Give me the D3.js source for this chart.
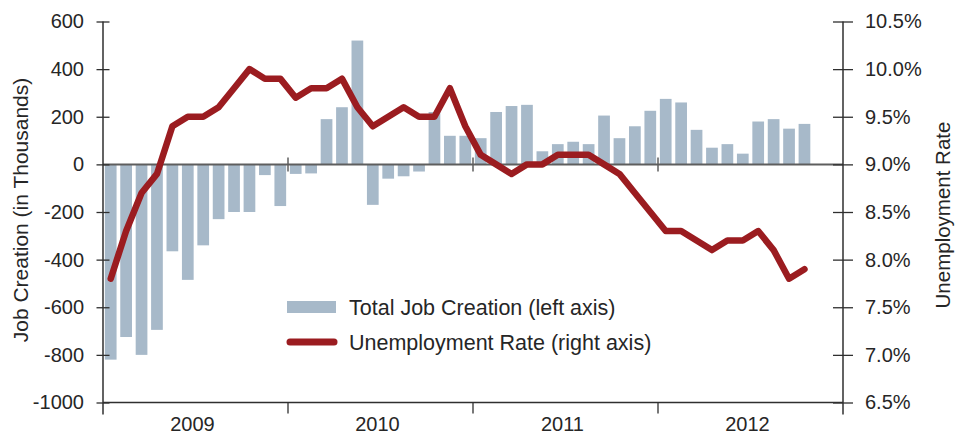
<!DOCTYPE html>
<html>
<head>
<meta charset="utf-8">
<script src="https://cdn.jsdelivr.net/npm/d3@7"></script>
<style>
  html, body { margin: 0; padding: 0; background: #fff; }
  svg { display: block; font-family: "Liberation Sans", Arial, Helvetica, sans-serif; }
</style>
</head>
<body>
<svg id="chart" width="963" height="434"></svg>
<script>
// ---- Data ----
const years = ["2009", "2010", "2011", "2012"];
const monthSlots = [
  "2009-01","2009-02","2009-03","2009-04","2009-05","2009-06","2009-07","2009-08","2009-09","2009-10","2009-11","2009-12",
  "2010-01","2010-02","2010-03","2010-04","2010-05","2010-06","2010-07","2010-08","2010-09","2010-10","2010-11","2010-12",
  "2011-01","2011-02","2011-03","2011-04","2011-05","2011-06","2011-07","2011-08","2011-09","2011-10","2011-11","2011-12",
  "2012-01","2012-02","2012-03","2012-04","2012-05","2012-06","2012-07","2012-08","2012-09","2012-10","2012-11","2012-12"
];
const months = monthSlots.slice(0, 46);
const jobCreation = [
  -820, -725, -800, -695, -365, -485, -340, -230, -200, -200, -45, -175,
  -40, -38, 190, 240, 520, -170, -60, -50, -30, 220, 120, 120,
  110, 220, 245, 250, 55, 85, 95, 85, 205, 110, 160, 225,
  275, 260, 145, 70, 85, 45, 180, 190, 150, 170
];
const unemploymentRate = [
  7.8, 8.3, 8.7, 8.9, 9.4, 9.5, 9.5, 9.6, 9.8, 10.0, 9.9, 9.9,
  9.7, 9.8, 9.8, 9.9, 9.6, 9.4, 9.5, 9.6, 9.5, 9.5, 9.8, 9.4,
  9.1, 9.0, 8.9, 9.0, 9.0, 9.1, 9.1, 9.1, 9.0, 8.9, 8.7, 8.5,
  8.3, 8.3, 8.2, 8.1, 8.2, 8.2, 8.3, 8.1, 7.8, 7.9
];
const leftTicks = [600, 400, 200, 0, -200, -400, -600, -800, -1000];
const rightTicks = [10.5, 10.0, 9.5, 9.0, 8.5, 8.0, 7.5, 7.0, 6.5];
const legendLabels = ["Total Job Creation (left axis)", "Unemployment Rate (right axis)"];
const axisTitles = { left: "Job Creation (in Thousands)", right: "Unemployment Rate" };

// ---- Styles ----
const barColor = "#a7b9c9";
const lineColor = "#9b1c20";
const textColor = "#262626";
const axisColor = "#2f2f2f";

const svg = d3.select("#chart");
const plotL = 103, plotR = 843, plotT = 21.5, plotB = 402.5;

const x = d3.scaleBand().domain(monthSlots).range([plotL, plotR]).paddingInner(0.24).paddingOuter(0.12);
const xYear = d3.scaleBand().domain(years).range([plotL, plotR]);
const yL = d3.scaleLinear().domain([-1000, 600]).range([plotB, plotT]);
const yR = d3.scaleLinear().domain([6.5, 10.5]).range([plotB, plotT]);

// Bars
svg.append("g").selectAll("rect").data(months).join("rect")
  .attr("x", d => x(d))
  .attr("width", x.bandwidth())
  .attr("y", (d, i) => Math.min(yL(jobCreation[i]), yL(0)))
  .attr("height", (d, i) => Math.abs(yL(jobCreation[i]) - yL(0)))
  .attr("fill", barColor);

// Zero line
svg.append("line")
  .attr("x1", plotL).attr("x2", plotR)
  .attr("y1", yL(0)).attr("y2", yL(0))
  .attr("stroke", "#5e5e5e").attr("stroke-width", 2);

// Year ticks on zero line
svg.append("g").selectAll("line").data(years.slice(1)).join("line")
  .attr("x1", d => xYear(d)).attr("x2", d => xYear(d))
  .attr("y1", yL(0) - 7).attr("y2", yL(0) + 7)
  .attr("stroke", "#5e5e5e").attr("stroke-width", 1.5);

// Left axis
const leftAxis = d3.axisLeft(yL).tickValues(leftTicks).tickSize(0).tickPadding(19).tickFormat(d => String(d));
const gL = svg.append("g").attr("transform", `translate(${plotL},0)`).call(leftAxis);
gL.select(".domain").remove();
gL.selectAll("text").attr("fill", textColor).style("font-size", "20px").style("font-family", "inherit");
gL.append("line").attr("x1", 0).attr("x2", 0).attr("y1", plotT).attr("y2", plotB + 12)
  .attr("stroke", axisColor).attr("stroke-width", 1.5);
gL.selectAll(".tick").append("line").attr("x1", -6.5).attr("x2", 6.5)
  .attr("stroke", axisColor).attr("stroke-width", 1.3);

// Right axis
const rightAxis = d3.axisRight(yR).tickValues(rightTicks).tickSize(0).tickPadding(22).tickFormat(d => d3.format(".1f")(d) + "%");
const gR = svg.append("g").attr("transform", `translate(${plotR},0)`).call(rightAxis);
gR.select(".domain").remove();
gR.selectAll("text").attr("fill", textColor).style("font-size", "20px").style("font-family", "inherit");
gR.append("line").attr("x1", 0).attr("x2", 0).attr("y1", plotT).attr("y2", plotB + 12)
  .attr("stroke", axisColor).attr("stroke-width", 1.5);
gR.selectAll(".tick").append("line").attr("x1", -10).attr("x2", 10)
  .attr("stroke", axisColor).attr("stroke-width", 1.3);

// Bottom axis
svg.append("line").attr("x1", plotL).attr("x2", plotR).attr("y1", plotB).attr("y2", plotB)
  .attr("stroke", axisColor).attr("stroke-width", 1.5);
svg.append("g").selectAll("line").data(years.slice(1)).join("line")
  .attr("x1", d => xYear(d)).attr("x2", d => xYear(d))
  .attr("y1", plotB).attr("y2", plotB + 11)
  .attr("stroke", axisColor).attr("stroke-width", 1.3);
svg.append("g").selectAll("text").data(years).join("text")
  .attr("x", d => xYear(d) + xYear.bandwidth() / 2 - 3)
  .attr("y", 431)
  .attr("text-anchor", "middle")
  .attr("fill", textColor)
  .style("font-size", "20px")
  .text(d => d);

// Line
const line = d3.line()
  .x((d, i) => x(months[i]) + x.bandwidth() / 2)
  .y(d => yR(d));
svg.append("path").datum(unemploymentRate)
  .attr("d", line)
  .attr("fill", "none")
  .attr("stroke", lineColor)
  .attr("stroke-width", 6.5)
  .attr("stroke-linejoin", "round")
  .attr("stroke-linecap", "round");

// Axis titles
svg.append("text")
  .attr("transform", `translate(28,210) rotate(-90)`)
  .attr("text-anchor", "middle")
  .attr("fill", textColor)
  .style("font-size", "21px")
  .text(axisTitles.left);
svg.append("text")
  .attr("transform", `translate(950,215) rotate(-90)`)
  .attr("text-anchor", "middle")
  .attr("fill", textColor)
  .style("font-size", "20.5px")
  .text(axisTitles.right);

// Legend
const lg = svg.append("g");
lg.append("rect").attr("x", 287).attr("y", 301).attr("width", 49).attr("height", 12).attr("fill", barColor);
lg.append("line").attr("x1", 290).attr("x2", 334).attr("y1", 342).attr("y2", 342)
  .attr("stroke", lineColor).attr("stroke-width", 7).attr("stroke-linecap", "round");
lg.selectAll("text").data(legendLabels).join("text")
  .attr("x", 349)
  .attr("y", (d, i) => 307 + i * 35)
  .attr("dy", "0.35em")
  .attr("fill", textColor)
  .style("font-size", "21.5px")
  .text(d => d);
</script>
</body>
</html>
